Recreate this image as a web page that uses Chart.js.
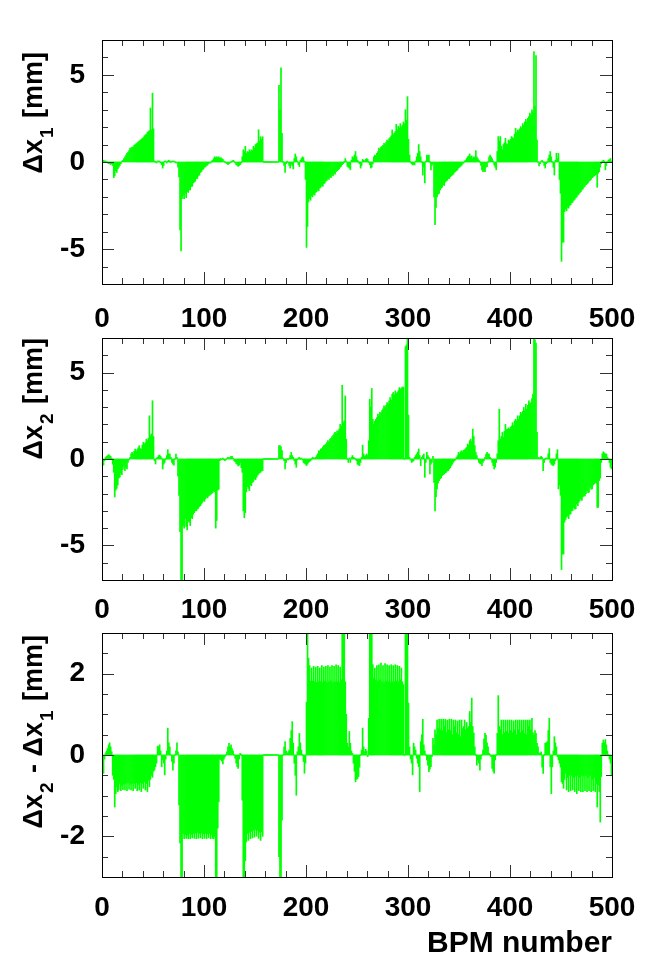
<!DOCTYPE html>
<html>
<head>
<meta charset="utf-8">
<script src="https://cdn.jsdelivr.net/npm/chart.js@4.4.1/dist/chart.umd.min.js"></script>
<style>
  html, body { margin: 0; padding: 0; background: #fff; }
  #page { position: relative; width: 654px; height: 979px; overflow: hidden; background: #fff; }
  canvas { position: absolute; left: 0; }
</style>
</head>
<body>
<div id="page">
  <canvas id="c1" width="654" height="344" style="top:0px"></canvas>
  <canvas id="c2" width="654" height="342" style="top:298px"></canvas>
  <canvas id="c3" width="654" height="386" style="top:593px"></canvas>
</div>
<script>
// BPM index 0..499 (one bar per BPM)
const bpmNumbers = Array.from({length: 500}, (_, i) => i);

const xTicks = [0, 100, 200, 300, 400, 500];
const xMinorStep = 20;
const dxTicks = [-5, 0, 5];
const diffTicks = [-2, 0, 2];

// orbit change at first setting, mm
const dx1 = [
  0.1, 0.1, 0.05, 0.05, 0, -0.05, -0.1, -0.1, -0.15, -0.1,
  -0.2, -0.9, -0.8, -0.5, -0.6, -0.4, -0.3, -0.2, -0.1, 0.05,
  0.1, 0.2, 0.3, 0.4, 0.5, 0.55, 0.65, 0.8, 0.8, 0.85,
  0.85, 0.95, 1.0, 1.05, 1.1, 1.15, 1.2, 1.25, 1.3, 1.35,
  1.4, 1.5, 1.55, 1.6, 1.7, 1.75, 1.8, 3.1, 1.85, 3.95,
  1.9, 0.05, 0, -0.05, 0.02, 0.05, 0.02, -0.05, -0.15, -0.35,
  -0.2, 0.02, 0.05, -0.05, 0.05, 0.1, 0.05, 0, 0.02, 0.03,
  0.02, 0, -0.02, -0.05, -0.3, -0.85, -3.9, -5.1, -2.1, -1.9,
  -2.1, -1.8, -2.05, -1.7, -1.75, -1.6, -1.6, -1.4, -1.4, -1.2,
  -1.15, -1.1, -0.95, -0.95, -0.8, -0.75, -0.6, -0.55, -0.45, -0.4,
  -0.3, -0.28, -0.2, -0.18, -0.1, -0.05, -0.03, 0.05, 0.1, 0.2,
  0.3, 0.25, 0.3, 0.25, 0.3, 0.2, 0.25, 0.2, 0.15, 0.05,
  0, -0.05, -0.1, -0.15, -0.1, -0.05, 0, 0.05, 0.1, 0.05,
  -0.05, -0.15, -0.2, -0.25, -0.2, -0.15, -0.05, 0.3, 0.7, 0.6,
  0.9, 0.5, 0.6, 0.55, 0.7, 0.6, 0.7, 0.65, 0.9, 0.8,
  1.0, 1.05, 1.1, 1.85, 1.2, 1.45, 1.3, 1.45, 0, 0,
  0, 0, 0, 0, 0, 0, 0, 0, 0, 0,
  0, 0, 0, 4.4, 3.0, 5.4, 1.65, 0, -0.2, -0.6,
  -0.1, 0.02, -0.05, -0.2, -0.35, -0.1, -0.2, -0.4, 0.2, 0.46,
  0.3, 0.05, -0.15, -0.27, 0.1, 0.2, 0.3, 0.25, 0.05, -1.0,
  -4.9, -3.7, -2.3, -2.1, -2.2, -1.95, -2.0, -1.85, -1.9, -1.75,
  -1.7, -1.6, -1.65, -1.5, -1.45, -1.35, -1.4, -1.25, -1.2, -1.1,
  -1.05, -0.95, -1.0, -0.85, -0.9, -0.75, -0.8, -0.65, -0.7, -0.55,
  -0.5, -0.45, -0.4, -0.3, -0.25, -0.15, -0.1, 0, 0.2, 0.05,
  -0.25, -0.3, -0.35, -0.45, 0.1, 0.3, 0.25, 0.4, 0.6, 0.3,
  0.1, 0, -0.1, -0.35, -0.2, 0.15, 0.1, 0.05, 0.15, 0.2,
  0.15, 0, -0.15, -0.35, -0.3, -0.1, 0.3, 0.4, 0.35, 0.5,
  0.6, 0.8, 0.7, 0.85, 0.9, 0.95, 1.07, 1.0, 1.15, 1.26,
  1.2, 1.35, 1.4, 1.5, 1.84, 1.55, 1.65, 1.75, 2.16, 1.85,
  2.05, 1.95, 2.2, 2.0, 2.1, 2.3, 2.2, 3.0, 2.4, 3.75,
  1.3, 0.4, 0, -0.1, -0.17, -0.15, -0.17, 0.05, 0.3, 0.5,
  1.0, 0.6, 0.3, 0, -0.75, -0.3, -1.2, 0.05, 0.4, 0.35,
  0.4, 0, -0.45, -0.2, -0.1, -2.0, -3.6, -2.6, -2.0, -1.85,
  -1.8, -1.6, -1.5, -1.45, -1.3, -1.35, -1.15, -1.1, -1.05, -0.95,
  -0.95, -0.85, -0.8, -0.75, -0.7, -0.6, -0.55, -0.5, -0.45, -0.35,
  -0.3, -0.25, -0.2, -0.12, -0.05, 0.05, 0.1, 0.2, 0.3, 0.35,
  0.46, 0.3, 0.35, 0.2, 0.3, 0.25, 0.65, 0.3, 0.2, 0.1,
  0, -0.2, -0.45, -0.55, -0.5, -0.55, -0.3, -0.27, 0, 0.3,
  0.4, 0.3, 0.2, 0.05, -0.17, -0.3, -0.45, 0.6, 1.46, 1.2,
  1.46, 0.9, 0.7, 1.0, 1.1, 1.36, 1.05, 1.0, 1.26, 1.2,
  1.3, 1.46, 1.4, 1.36, 1.6, 1.93, 1.7, 1.84, 1.8, 1.9,
  2.03, 1.95, 2.2, 2.1, 2.3, 2.45, 2.3, 2.5, 2.6, 2.8,
  2.7, 3.0, 2.9, 6.34, 3.2, 6.1, 1.26, 0, -0.23, -0.1,
  0.05, 0.1, 0, -0.2, -0.35, -0.1, 0, 0.2, 0.4, 0.6,
  0.3, 0, -0.3, -0.75, 0.1, 0.5, 0.2, 0.5, -1.0, -1.8,
  -5.7, -4.6, -4.6, -2.85, -2.7, -2.8, -2.6, -2.65, -2.5, -2.45,
  -2.35, -2.3, -2.2, -2.15, -2.05, -2.0, -1.9, -1.85, -1.76, -1.7,
  -1.6, -1.55, -1.45, -1.4, -1.3, -1.26, -1.2, -1.1, -1.05, -1.0,
  -0.9, -0.85, -0.8, -0.75, -0.7, -1.45, -0.65, -0.55, -0.3, -0.1,
  0.05, 0.1, 0.05, -0.45, -0.2, 0, 0.1, 0.15, 0.2, 0.05
];

// orbit change at second setting, mm
const dx2 = [
  -0.35, -0.35, -0.1, 0.1, 0.15, 0.2, 0.25, 0.2, 0.15, 0.05,
  -0.3, -0.77, -2.2, -1.8, -1.7, -1.5, -1.1, -1.05, -0.8, -0.9,
  -0.6, -0.4, -0.67, -0.5, -0.58, -0.2, -0.05, 0.1, 0.3, 0.38,
  0.3, 0.45, 0.58, 0.45, 0.55, 0.65, 0.77, 0.6, 0.58, 0.8,
  0.96, 0.87, 0.95, 1.15, 1.06, 1.2, 2.5, 1.35, 1.45, 3.37,
  1.3, -0.1, -0.29, 0.05, 0.1, 0.2, 0.23, 0.15, 0.05, -0.58,
  -0.3, -0.2, 0, 0.2, 0.54, 0.3, 0.29, 0.1, -0.2, -0.3,
  -0.35, 0, 0.29, 0.1, -1.0, -2.1, -4.2, -9, -9, -3.85,
  -4.0, -3.45, -3.9, -4.1, -3.6, -3.65, -3.85, -3.4, -3.45, -3.2,
  -3.1, -3.0, -3.0, -2.9, -2.85, -2.75, -2.7, -2.6, -2.5, -2.4,
  -2.45, -2.3, -2.2, -2.25, -2.15, -2.1, -2.05, -2.0, -1.95, -1.86,
  -1.9, -4.0, -3.56, -1.8, -1.75, -0.1, 0, -0.05, 0.05, -0.05,
  -0.1, -0.05, 0.05, 0.1, 0.05, 0.1, 0.15, 0.15, 0.05, -0.1,
  -0.15, -0.25, -0.3, -0.4, -0.35, -0.2, -0.5, -0.77, -3.0, -3.4,
  -3.1, -1.9, -1.6, -1.7, -1.83, -1.5, -1.54, -1.35, -1.3, -1.15,
  -1.2, -1.06, -0.95, -0.87, -0.8, -0.77, -0.7, -0.67, 0, 0,
  0, 0, 0, 0, 0, 0, 0, 0, 0, 0,
  0, 0, 0, 0.77, 0.77, 0.7, 0.48, 0.05, -0.1, -0.58,
  -0.2, 0, -0.05, 0.05, 0.2, 0.38, 0.2, 0.1, -0.1, -0.3,
  -0.48, -0.05, 0.05, 0.1, 0, 0.05, -0.05, -0.2, -0.25, -0.3,
  -0.38, -0.3, -0.2, -0.15, -0.1, 0, 0.1, 0.05, 0.05, 0.1,
  0.2, 0.3, 0.48, 0.45, 0.58, 0.6, 0.7, 0.77, 0.8, 0.87,
  0.95, 1.06, 1.0, 1.15, 1.2, 1.3, 1.35, 1.45, 1.54, 1.5,
  1.63, 1.6, 1.73, 2.0, 1.9, 4.27, 2.1, 2.2, 3.65, 1.15,
  0, -0.2, 0.05, -0.2, 0.1, 0.2, 0.1, 0.05, 0, -0.1,
  -0.3, -0.35, -0.38, -0.2, 0.1, 0.8, 0.3, 0.15, 0.2, 0.29,
  0.2, 1.06, 3.46, 3.0, 4.08, 2.3, 2.0, 2.2, 2.3, 2.4,
  2.6, 2.5, 2.7, 2.65, 2.8, 2.9, 3.08, 2.98, 3.1, 3.27,
  3.2, 3.37, 3.56, 3.4, 3.75, 3.85, 3.7, 3.94, 3.8, 3.85,
  3.95, 4.13, 4.04, 4.1, 4.17, 4.15, 0, 6.5, 6.6, 7.5,
  2.54, 0.1, -0.05, -0.2, -0.15, -0.1, 0.1, 0.2, 0.29, 0.4,
  0.58, 0.2, -0.38, 0.1, 0.2, 0.29, -1.06, -0.2, 0.38, 0.2,
  0.1, -0.87, -0.3, -0.2, 0.15, -1.35, -3.0, -2.2, -1.73, -1.4,
  -1.25, -1.15, -1.1, -0.96, -0.9, -0.87, -0.8, -0.77, -0.7, -0.67,
  -0.58, -0.5, -0.38, -0.3, -0.19, -0.1, -0.05, 0.1, 0.19, 0.38,
  0.3, 0.42, 0.48, 0.4, 0.5, 0.54, 0.6, 0.67, 0.87, 0.8,
  1.06, 1.15, 1.0, 1.73, 1.3, 0.77, 0.38, 0.2, 0, -0.2,
  -0.25, -0.29, -0.38, -0.2, -0.1, 0.1, 0.29, 0.38, 0.3, 0.29,
  0.1, 0, -0.2, -0.38, -0.58, -0.48, -0.2, 0.3, 1.06, 2.88,
  1.15, 1.3, 1.54, 1.25, 1.6, 2.0, 1.7, 1.73, 1.8, 1.73,
  1.83, 1.9, 2.1, 1.92, 2.2, 2.3, 2.2, 2.5, 2.3, 2.5,
  2.7, 2.6, 2.75, 2.98, 2.8, 3.17, 2.88, 3.1, 3.37, 3.2,
  3.27, 3.5, 3.75, 7.5, 6.9, 6.7, 1.54, 0.1, 0.05, 0.1,
  0.15, 0.1, -0.67, -0.2, 0, 0.05, 0.04, 0.3, 0.6, -0.2,
  -0.3, -0.35, -0.38, -0.3, -0.1, 0.3, 0.54, -1.73, -1.5, -2.1,
  -6.4, -5.5, -5.5, -3.65, -3.5, -3.37, -3.3, -3.45, -3.2, -3.17,
  -3.0, -2.98, -2.79, -2.9, -2.88, -2.6, -2.7, -2.5, -2.4, -2.3,
  -2.4, -2.2, -2.1, -2.15, -2.0, -1.83, -1.95, -1.92, -1.63, -1.75,
  -1.73, -1.5, -1.44, -1.35, -1.4, -2.8, -2.8, -1.25, -1.1, -0.2,
  0.3, 0.42, 0.35, 0.3, 0.29, 0.1, 0, -0.2, -0.48, -0.58
];

// difference of the two, mm (clipped at +-3 on the plot)
const dx21 = [
  -0.45, -0.45, -0.1, 0.05, 0.1, 0.16, 0.25, 0.3, 0.2, 0.08,
  -0.5, -0.6, -1.28, -0.95, -0.78, -0.9, -0.86, -0.7, -0.88, -0.75,
  -0.85, -0.72, -0.86, -0.7, -0.88, -0.68, -0.84, -0.72, -0.86, -0.7,
  -0.88, -0.7, -0.82, -0.68, -0.88, -0.72, -0.86, -0.68, -0.9, -0.7,
  -0.82, -0.66, -0.86, -0.7, -0.9, -0.62, -0.78, -0.6, -0.5, -0.55,
  -0.4, -0.37, -0.29, -0.2, 0.22, 0.2, 0.25, 0.1, -0.29, -0.12,
  -0.2, -0.49, -0.1, 0.1, 0.66, 0.3, 0.2, 0, -0.16, -0.37,
  -0.2, 0, 0.1, 0.3, 0.08, -1.23, -2.16, -3.5, -3.5, -1.93,
  -2.06, -1.95, -2.05, -1.97, -2.06, -1.93, -2.06, -1.95, -2.04, -1.93,
  -2.05, -1.92, -2.06, -1.9, -2.05, -1.93, -2.04, -1.92, -2.06, -1.94,
  -2.05, -1.93, -2.06, -1.94, -2.04, -1.93, -2.06, -1.95, -2.05, -2.06,
  -2.0, -3.5, -3.5, -1.8, -1.15, -0.1, -0.12, -0.15, -0.22, -0.1,
  -0.05, 0, 0.08, 0.2, 0.29, 0.2, 0.25, 0.16, 0.1, 0,
  -0.08, -0.2, -0.29, -0.33, -0.1, 0.04, 0, -1.11, -3.5, -3.5,
  -2.6, -2.14, -1.93, -2.1, -1.9, -2.06, -1.88, -2.04, -1.85, -2.02,
  -1.83, -2.0, -1.85, -2.05, -1.9, -2.1, -1.89, -2.0, 0, 0,
  0, 0, 0, 0, 0, 0, 0, 0, 0, 0,
  0, 0, 0, -2.5, -3.5, -3.5, -1.6, 0, 0.2, 0.33,
  0.1, 0.04, 0.08, 0.12, 0.41, 0.6, 0.82, 0.29, -0.2, -0.5,
  -0.99, 0.08, 0.2, 0.53, 0.3, 0.12, 0, -0.16, -0.45, -0.2,
  1.3, 3.5, 2.38, 2.2, 1.81, 2.14, 1.82, 2.18, 1.8, 2.16,
  1.78, 2.18, 1.8, 2.14, 1.8, 2.2, 1.78, 2.16, 1.82, 2.18,
  1.78, 2.2, 1.8, 2.16, 1.82, 2.2, 1.78, 2.18, 1.8, 2.22,
  1.8, 2.2, 1.78, 2.16, 1.85, 3.5, 3.5, 3.5, 1.8, 1.0,
  0.29, 0.2, 0.58, 0.29, 0.1, 0.04, -0.2, -0.4, -0.66, -0.6,
  -0.58, -0.53, -0.3, 0, 0.12, 0.66, 0.2, 0.08, 0.14, 0.1,
  -0.04, 0.9, 3.5, 3.5, 3.5, 2.22, 1.89, 2.14, 1.85, 2.2,
  1.82, 2.22, 1.85, 2.26, 1.8, 2.2, 1.78, 2.25, 1.82, 2.22,
  1.8, 2.2, 1.78, 2.22, 1.8, 2.2, 1.8, 2.22, 1.82, 2.2,
  1.8, 2.18, 1.85, 2.14, 1.8, 1.73, 0, 3.5, 3.5, 3.5,
  1.28, 0.2, -0.1, -0.2, -0.49, 0.29, 0.2, 0.12, -0.08, -0.2,
  -0.29, -0.9, 0.33, 0.5, 0.88, 0.25, 0.1, 0, -0.12, -0.25,
  -0.41, -0.35, -0.29, -0.04, 0.41, 0.25, 0.62, 0.5, 0.86, 0.65,
  0.88, 0.62, 0.88, 0.6, 0.88, 0.7, 0.88, 0.55, 0.86, 0.62,
  0.88, 0.6, 0.88, 0.5, 0.86, 0.7, 0.86, 0.55, 0.84, 0.5,
  0.86, 0.45, 0.86, 0.65, 0.7, 0.86, 0.62, 0.8, 0.66, 0.7,
  1.07, 0.8, 1.4, 0.7, 0.54, 0.2, 0, -0.25, -0.12, -0.2,
  -0.37, -0.1, 0, 0.12, 0.4, 0.53, 0.49, 0.3, 0.2, 0.04,
  0, -0.04, -0.33, -0.4, -0.45, -0.12, 0, 0.53, 1.46, 0.7,
  0.62, 0.86, 0.5, 0.86, 0.55, 0.86, 0.58, 0.86, 0.53, 0.86,
  0.6, 0.86, 0.55, 0.84, 0.62, 0.86, 0.5, 0.86, 0.62, 0.86,
  0.55, 0.86, 0.6, 0.86, 0.53, 0.86, 0.5, 0.86, 0.7, 0.86,
  0.62, 0.9, 0.55, 0.49, 0.6, 0.53, 0.29, 0.2, 0.05, 0.05,
  0.08, -0.3, -0.45, 0, 0.29, 0.3, 0.33, 0.6, 0.9, -0.29,
  -0.95, -0.29, 0.1, 0.45, 0.3, 0.2, -0.04, -0.12, -0.2, -0.3,
  -0.66, -0.7, -0.82, -0.6, -0.45, -0.86, -0.55, -0.9, -0.5, -0.88,
  -0.5, -0.86, -0.55, -0.9, -0.52, -0.95, -0.5, -0.88, -0.55, -0.9,
  -0.5, -0.9, -0.52, -0.88, -0.5, -0.9, -0.55, -0.88, -0.5, -0.9,
  -0.6, -0.88, -0.55, -0.9, -0.7, -1.28, -0.74, -0.9, -1.65, -0.53,
  0.29, 0.37, 0.3, 0.38, 0.25, 0.1, 0, -0.1, -0.2, -0.49
];

const FONT = '"Liberation Sans", Helvetica, Arial, sans-serif';
const GREEN = '#00ff00';

// draws a rotated y title with subscripts, ending at yEnd (top)
function drawYTitle(ctx, parts, xBase, yEnd) {
  const main = 'bold 27px ' + FONT, sub = 'bold 19px ' + FONT;
  let total = 0;
  const w = parts.map(p => {
    ctx.font = p.sub ? sub : main;
    const v = ctx.measureText(p.t).width + (p.sub ? 3 : 0);
    total += v;
    return v;
  });
  ctx.save();
  ctx.translate(xBase, yEnd + total);
  ctx.rotate(-Math.PI / 2);
  ctx.fillStyle = '#000';
  ctx.textAlign = 'left';
  ctx.textBaseline = 'alphabetic';
  let cx = 0;
  parts.forEach((p, i) => {
    ctx.font = p.sub ? sub : main;
    ctx.fillText(p.t, cx + (p.sub ? 1 : 0), p.sub ? 11 : 0);
    cx += w[i];
  });
  ctx.restore();
}

const rootFrame = {
  id: 'rootFrame',
  afterDraw(chart, args, o) {
    const {ctx, chartArea: a, scales: {x, y}} = chart;
    ctx.save();
    ctx.strokeStyle = '#333';
    ctx.lineWidth = 1;
    ctx.beginPath();
    for (let v = x.min; v <= x.max; v += xMinorStep) {
      const px = Math.round(x.getPixelForValue(v)) + 0.5;
      const len = xTicks.includes(v) ? 12 : 6;
      ctx.moveTo(px, a.bottom); ctx.lineTo(px, a.bottom - len);
      ctx.moveTo(px, a.top); ctx.lineTo(px, a.top + len);
    }
    for (let v = y.min; v <= y.max + 1e-9; v += o.yMinor) {
      const py = Math.round(y.getPixelForValue(v)) + 0.5;
      const len = o.yMajor.includes(v) ? 12 : 6;
      ctx.moveTo(a.left, py); ctx.lineTo(a.left + len, py);
      ctx.moveTo(a.right, py); ctx.lineTo(a.right - len, py);
    }
    ctx.stroke();
    ctx.strokeStyle = '#000';
    ctx.strokeRect(Math.round(a.left) + 0.5, Math.round(a.top) + 0.5,
      Math.round(a.right - a.left), Math.round(a.bottom - a.top));
    ctx.restore();
    drawYTitle(ctx, o.title, 42, o.titleEnd);
  }
};

function makePanel(id, values, yRange, yMajor, yMinor, title, titleEnd, xHeight, xPad, xTitle) {
  return new Chart(document.getElementById(id), {
    type: 'bar',
    data: {
      datasets: [{
        data: values.map((v, i) => ({x: bpmNumbers[i] + 0.5, y: v})),
        backgroundColor: GREEN,
        borderWidth: 0,
        barPercentage: 1,
        categoryPercentage: 1,
        minBarLength: 1
      }]
    },
    options: {
      responsive: false,
      animation: false,
      events: [],
      layout: {padding: {top: 40, right: 42, left: 0, bottom: 0}},
      plugins: {
        legend: {display: false},
        tooltip: {enabled: false},
        rootFrame: {yMajor: yMajor, yMinor: yMinor, title: title, titleEnd: titleEnd}
      },
      scales: {
        x: {
          type: 'linear',
          offset: false,
          min: 0, max: 500,
          grid: {display: false, drawTicks: false},
          border: {display: false},
          afterBuildTicks: s => { s.ticks = xTicks.map(v => ({value: v})); },
          afterFit: s => { s.height = xHeight; },
          ticks: {
            autoSkip: false, maxRotation: 0, minRotation: 0,
            padding: xPad, color: '#000',
            font: {family: FONT, size: 28, weight: 'bold'},
            callback: v => String(v)
          },
          title: xTitle ? {
            display: true, text: xTitle, align: 'end', color: '#000',
            font: {family: FONT, size: 30, weight: 'bold'},
            padding: {top: 0, bottom: 17}
          } : {display: false}
        },
        y: {
          min: yRange[0], max: yRange[1],
          grid: {display: false, drawTicks: false},
          border: {display: false},
          afterBuildTicks: s => { s.ticks = yMajor.map(v => ({value: v})); },
          afterFit: s => { s.width = 102; },
          ticks: {
            autoSkip: false, padding: 17, color: '#000',
            font: {family: FONT, size: 28, weight: 'bold'},
            callback: v => String(v)
          }
        }
      }
    },
    plugins: [rootFrame]
  });
}

makePanel('c1', dx1, [-7, 7], dxTicks, 1,
  [{t: '\u0394x'}, {t: '1', sub: true}, {t: ' [mm]'}], 52, 60, 18, null);
makePanel('c2', dx2, [-7, 7], dxTicks, 1,
  [{t: '\u0394x'}, {t: '2', sub: true}, {t: ' [mm]'}], 40, 60, 13, null);
makePanel('c3', dx21, [-3, 3], diffTicks, 0.5,
  [{t: '\u0394x'}, {t: '2', sub: true}, {t: ' - \u0394x'}, {t: '1', sub: true}, {t: ' [mm]'}], 42, 102, 14, 'BPM number');
</script>
</body>
</html>
